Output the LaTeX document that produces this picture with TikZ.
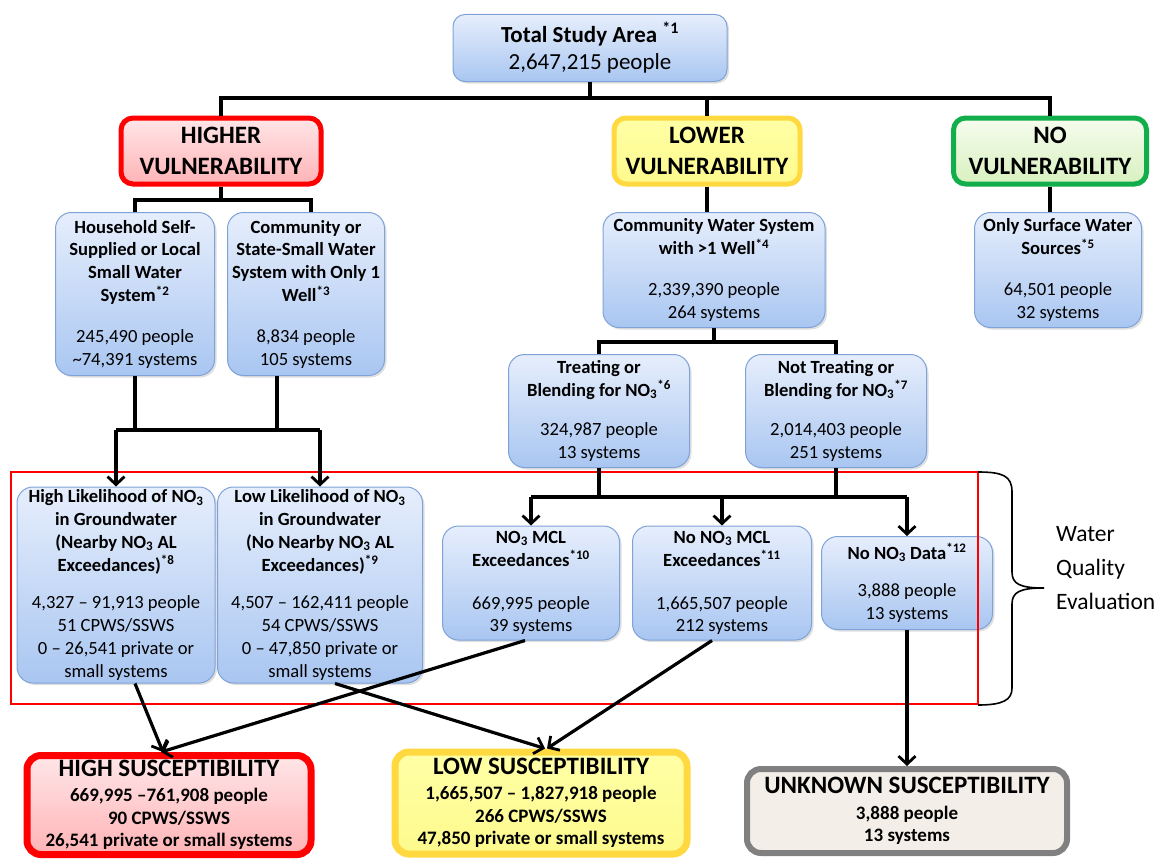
\documentclass[tikz,border=0pt]{standalone}
\usepackage{fontspec}
\setmainfont{Carlito}
\usetikzlibrary{arrows.meta,shadows,calc}
\definecolor{bluetop}{HTML}{E6EEFC}
\definecolor{bluebot}{HTML}{A9C6F1}
\definecolor{blueline}{HTML}{7FA3D8}
\definecolor{redline}{HTML}{FF0000}
\definecolor{pinktop}{HTML}{FFE6E8}
\definecolor{pinkbot}{HTML}{FFB3B6}
\definecolor{yelline}{HTML}{FFD93F}
\definecolor{yeltop}{HTML}{FFFFA6}
\definecolor{yelbot}{HTML}{FDFA8C}
\definecolor{grnline}{HTML}{12AE4B}
\definecolor{grntop}{HTML}{F6FCEE}
\definecolor{grnbot}{HTML}{D8F1BF}
\definecolor{grayline}{HTML}{808080}
\definecolor{beige}{HTML}{F3EFE8}
\tikzset{
  bluebox/.style={draw=blueline, line width=1pt, rounded corners=16pt,
    top color=bluetop, bottom color=bluebot, align=center, inner sep=2pt,
    font=\fontsize{18.6}{22.8}\selectfont,
    drop shadow={shadow xshift=2pt, shadow yshift=-2pt, opacity=.25}},
  headbox/.style={line width=5pt, rounded corners=12pt, align=center, inner sep=2pt,
    font=\fontsize{25}{31}\selectfont\bfseries,
    drop shadow={shadow xshift=2pt, shadow yshift=-2pt, opacity=.2}},
  resbox/.style={line width=7pt, rounded corners=14pt, align=center, inner sep=2pt,
    font=\fontsize{19}{22.5}\selectfont\bfseries},
  conn/.style={line width=3.2pt, black},
  arr/.style={line width=3.2pt, black, -{Straight Barb[length=8pt,width=17pt,line width=2.8pt]}},
}
\newcommand{\nothree}{NO\textsubscript{3}}
\newcommand{\sfn}[1]{\textsuperscript{#1}}
\begin{document}
\begin{tikzpicture}[x=1pt,y=-1pt]
\useasboundingbox (0,0) rectangle (1159,859);

% top
\node[bluebox, minimum width=274, minimum height=67, rounded corners=12pt,
  font=\fontsize{23}{27}\selectfont] (total) at (590,48)
  {\textbf{Total Study Area \sfn{*1}}\\2,647,215 people};

\node[headbox, draw=redline, top color=pinktop, bottom color=pinkbot,
  minimum width=200, minimum height=66] (higher) at (221,151) {HIGHER\\VULNERABILITY};
\node[headbox, draw=yelline, top color=yeltop, bottom color=yelbot,
  minimum width=186, minimum height=66] (lower) at (707,151) {LOWER\\VULNERABILITY};
\node[headbox, draw=grnline, top color=grntop, bottom color=grnbot,
  minimum width=193, minimum height=66] (novul) at (1050,151) {NO\\VULNERABILITY};

% level 2
\node[bluebox, minimum width=159, minimum height=163] (house) at (135,294)
  {\textbf{Household Self-}\\\textbf{Supplied or Local}\\\textbf{Small Water}\\\textbf{System\sfn{*2}}\\[18pt]245,490 people\\\textasciitilde 74,391 systems};
\node[bluebox, minimum width=157, minimum height=163] (comm1) at (306,294)
  {\textbf{Community or}\\\textbf{State-Small Water}\\\textbf{System with Only 1}\\\textbf{Well\sfn{*3}}\\[18pt]8,834 people\\105 systems};
\node[bluebox, minimum width=222, minimum height=115] (cws) at (714,270)
  {\textbf{Community Water System}\\\textbf{with >1 Well\sfn{*4}}\\[18pt]2,339,390 people\\264 systems};
\node[bluebox, minimum width=167, minimum height=115] (surf) at (1058,270)
  {\textbf{Only Surface Water}\\\textbf{Sources\sfn{*5}}\\[18pt]64,501 people\\32 systems};

% level 3
\node[bluebox, minimum width=181, minimum height=113] (treat) at (599,411)
  {\textbf{Treating or}\\\textbf{Blending for \nothree\sfn{*6}}\\[17pt]324,987 people\\13 systems};
\node[bluebox, minimum width=181, minimum height=113] (nottreat) at (836,411)
  {\textbf{Not Treating or}\\\textbf{Blending for \nothree\sfn{*7}}\\[17pt]2,014,403 people\\251 systems};

% level 4
\node[bluebox, minimum width=198, minimum height=196] (highl) at (116,585)
  {\textbf{High Likelihood of \nothree}\\\textbf{in Groundwater}\\\textbf{(Nearby \nothree\ AL}\\\textbf{Exceedances)\sfn{*8}}\\[15pt]4,327 – 91,913 people\\51 CPWS/SSWS\\0 – 26,541 private or\\small systems};
\node[bluebox, minimum width=205, minimum height=196] (lowl) at (320,585)
  {\textbf{Low Likelihood of \nothree}\\\textbf{in Groundwater}\\\textbf{(No Nearby \nothree\ AL}\\\textbf{Exceedances)\sfn{*9}}\\[15pt]4,507 – 162,411 people\\54 CPWS/SSWS\\0 – 47,850 private or\\small systems};
\node[bluebox, minimum width=177, minimum height=114] (mcl) at (531,583)
  {\textbf{\nothree\ MCL}\\\textbf{Exceedances\sfn{*10}}\\[20pt]669,995 people\\39 systems};
\node[bluebox, minimum width=179, minimum height=114] (nomcl) at (722,583)
  {\textbf{No \nothree\ MCL}\\\textbf{Exceedances\sfn{*11}}\\[20pt]1,665,507 people\\212 systems};
\node[bluebox, minimum width=171, minimum height=93] (nodata) at (907,583)
  {\textbf{No \nothree\ Data\sfn{*12}}\\[15pt]3,888 people\\13 systems};

% results
\node[resbox, draw=redline, top color=pinktop, bottom color=pinkbot,
  minimum width=284, minimum height=99] (hs) at (169,805)
  {{\fontsize{25}{28}\selectfont HIGH SUSCEPTIBILITY}\\[3pt]669,995 –761,908 people\\90 CPWS/SSWS\\26,541 private or small systems};
\node[resbox, draw=yelline, top color=yeltop, bottom color=yelbot,
  minimum width=292, minimum height=102] (ls) at (541,803)
  {{\fontsize{25}{28}\selectfont LOW SUSCEPTIBILITY}\\[3pt]1,665,507 – 1,827,918 people\\266 CPWS/SSWS\\47,850 private or small systems};
\node[resbox, draw=grayline, fill=beige, line width=6pt,
  minimum width=320, minimum height=84] (us) at (907,811)
  {{\fontsize{25}{28}\selectfont UNKNOWN SUSCEPTIBILITY}\\[3pt]3,888 people\\13 systems};

% evaluation frame
\draw[redline, line width=1.2pt] (11,472) rectangle (978,704);
\draw[line width=1.6pt] (978,472) .. controls (1003,472) and (1012,476) .. (1012,492)
  -- (1012,572) .. controls (1012,584) and (1020,588) .. (1044,588)
  .. controls (1020,588) and (1012,592) .. (1012,604)
  -- (1012,688) .. controls (1012,700) and (1003,705) .. (978,705);
\node[anchor=west, align=left, font=\fontsize{23.5}{34}\selectfont, inner sep=0pt] (wqe) at (1056,568)
  {Water\\Quality\\Evaluation};

% tree connectors
\coordinate (b1) at (590,98);
\draw[conn] (total.south) -- (b1);
\draw[conn] (higher.north) |- (b1) -| (novul.north);
\draw[conn] (b1) -| (lower.north);

\coordinate (b2) at (221,200);
\draw[conn] (higher.south) -- (b2);
\draw[conn] (house.north) |- (b2) -| ([xshift=5pt]comm1.north);

\draw[conn] (lower.south) -- (lower.south |- cws.north);
\draw[conn] (novul.south) -- (novul.south |- surf.north);

\coordinate (b3) at (714,342);
\draw[conn] (cws.south) -- (b3);
\draw[conn] (treat.north) |- (b3) -| (nottreat.north);

\coordinate (b4a) at (135,430);
\coordinate (b4b) at (277,430);
\draw[conn] (house.south) -- (b4a);
\draw[conn] (comm1.south -| b4b) -- (b4b);
\draw[conn] (highl.north |- b4a) -- (lowl.north |- b4a);
\draw[arr] (highl.north |- b4a) -- (highl.north);
\draw[arr] (lowl.north |- b4a) -- (lowl.north);

\coordinate (b5) at (599,497);
\coordinate (b6) at (836,497);
\draw[conn] (treat.south) -- (b5);
\draw[conn] (nottreat.south) -- (b6);
\draw[conn] (mcl.north |- b5) -- (nodata.north |- b5);
\draw[arr] (mcl.north |- b5) -- (mcl.north);
\draw[arr] (nomcl.north |- b5) -- (nomcl.north);
\draw[arr] (nodata.north |- b5) -- (nodata.north);

% results connectors
\draw[arr] ([xshift=19pt]highl.south) -- ([xshift=-6pt]hs.north);
\draw[arr] ([xshift=-6pt]mcl.south) -- ([xshift=-8pt]hs.north);
\draw[arr] ([xshift=15pt]lowl.south) -- ([xshift=4pt]ls.north);
\draw[arr] ([xshift=-10pt]nomcl.south) -- ([xshift=6pt]ls.north);
\draw[arr] (nodata.south) -- (us.north);
\end{tikzpicture}
\end{document}
